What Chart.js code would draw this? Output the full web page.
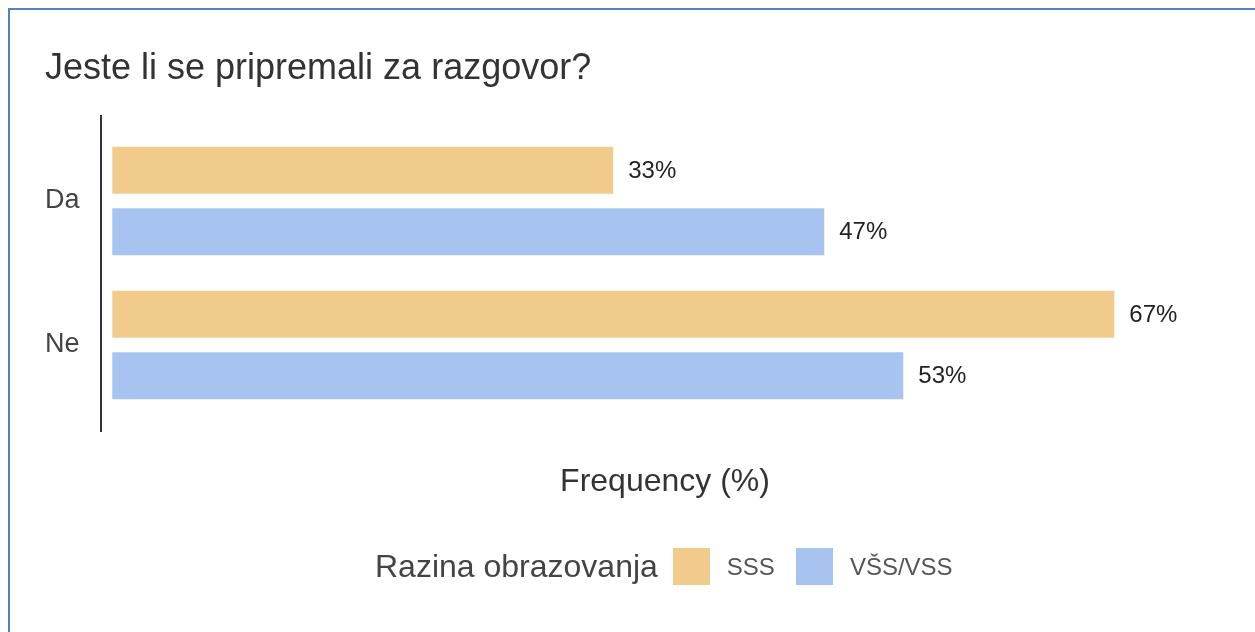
<!DOCTYPE html>
<html>
<head>
<meta charset="utf-8">
<script src="https://cdn.jsdelivr.net/npm/chart.js@4.4.1/dist/chart.umd.min.js"></script>
<style>
  body { margin: 0; background: #fff; font-family: "Liberation Sans", Arial, sans-serif; }
  #wrap { position: relative; width: 1255px; height: 632px; overflow: hidden; }
  #frame { position: absolute; left: 8px; top: 8px; width: 1300px; height: 700px;
           border-top: 2px solid #5282c0; border-left: 2px solid #5282c0; }
  canvas { position: absolute; left: 0; top: 0; }
  #legend { position: absolute; left: 375px; top: 548px; height: 37px; display: flex; align-items: center;
            color: #444; white-space: nowrap; }
  #legend .ttl { font-size: 32px; margin-right: 15px; }
  #legend .box { width: 37px; height: 37px; margin-right: 17px; flex: none; }
  #legend .lbl { font-size: 24px; margin-right: 21px; color: #555; }
</style>
</head>
<body>
<div id="wrap">
  <div id="frame"></div>
  <canvas id="chart" width="1255" height="632"></canvas>
  <div id="legend"></div>
</div>
<script>
const chartTitle = 'Jeste li se pripremali za razgovor?';
const categories = ['Da', 'Ne'];
const seriesNames = ['SSS', 'VŠS/VSS'];
const sssValues = [33.33, 66.67];
const vssValues = [47.37, 52.63];
const seriesColors = ['#f0cb8c', '#a7c4f0'];
const axisTitle = 'Frequency (%)';
const legendTitle = 'Razina obrazovanja';

const FONT = '"Liberation Sans", Arial, sans-serif';

// legenda u HTML-u
const legend = document.getElementById('legend');
legend.innerHTML = '<span class="ttl">' + legendTitle + '</span>' +
  seriesNames.map((n, i) =>
    '<span class="box" style="background:' + seriesColors[i] + '"></span><span class="lbl">' + n + '</span>'
  ).join('');

// oznake vrijednosti desno od stupaca
const valueLabels = {
  id: 'valueLabels',
  afterDatasetsDraw(chart) {
    const ctx = chart.ctx;
    ctx.save();
    ctx.font = '24px ' + FONT;
    ctx.fillStyle = '#222';
    ctx.textBaseline = 'middle';
    chart.data.datasets.forEach((ds, i) => {
      chart.getDatasetMeta(i).data.forEach((bar, j) => {
        ctx.fillText(Math.round(ds.data[j]) + '%', bar.x + 15, bar.y + 1);
      });
    });
    ctx.restore();
  }
};

// okomita os, malo duža od područja grafa
const axisLine = {
  id: 'axisLine',
  afterDraw(chart) {
    const a = chart.chartArea;
    const ctx = chart.ctx;
    ctx.save();
    ctx.strokeStyle = '#333';
    ctx.lineWidth = 2;
    ctx.beginPath();
    ctx.moveTo(a.left, a.top - 14);
    ctx.lineTo(a.left, a.bottom + 15);
    ctx.stroke();
    ctx.restore();
  }
};

new Chart(document.getElementById('chart'), {
  type: 'bar',
  data: {
    labels: categories,
    datasets: [
      { label: seriesNames[0], data: sssValues, backgroundColor: seriesColors[0] },
      { label: seriesNames[1], data: vssValues, backgroundColor: seriesColors[1] }
    ]
  },
  options: {
    indexAxis: 'y',
    responsive: false,
    animation: false,
    categoryPercentage: 0.854,
    barPercentage: 0.764,
    layout: { padding: { left: 45, right: 26, top: 10, bottom: 130.8 } },
    plugins: {
      legend: { display: false },
      tooltip: { enabled: false },
      title: {
        display: true,
        text: chartTitle,
        align: 'start',
        color: '#333',
        font: { size: 36, family: FONT, weight: 'normal', lineHeight: 1.2 },
        padding: { top: 37.4, bottom: 38.4 }
      }
    },
    scales: {
      x: {
        min: -0.75,
        max: 74.3,
        grid: { display: false },
        border: { display: false },
        ticks: { display: false },
        title: {
          display: true,
          text: axisTitle,
          color: '#333',
          font: { size: 32, family: FONT, lineHeight: 1.2 },
          padding: { top: 37.8, bottom: 0 }
        }
      },
      y: {
        grid: { display: false },
        border: { display: false },
        ticks: {
          crossAlign: 'far',
          color: '#444',
          font: { size: 27, family: FONT }
        },
        afterFit(scale) { scale.width = 56; }
      }
    }
  },
  plugins: [valueLabels, axisLine]
});
</script>
</body>
</html>
